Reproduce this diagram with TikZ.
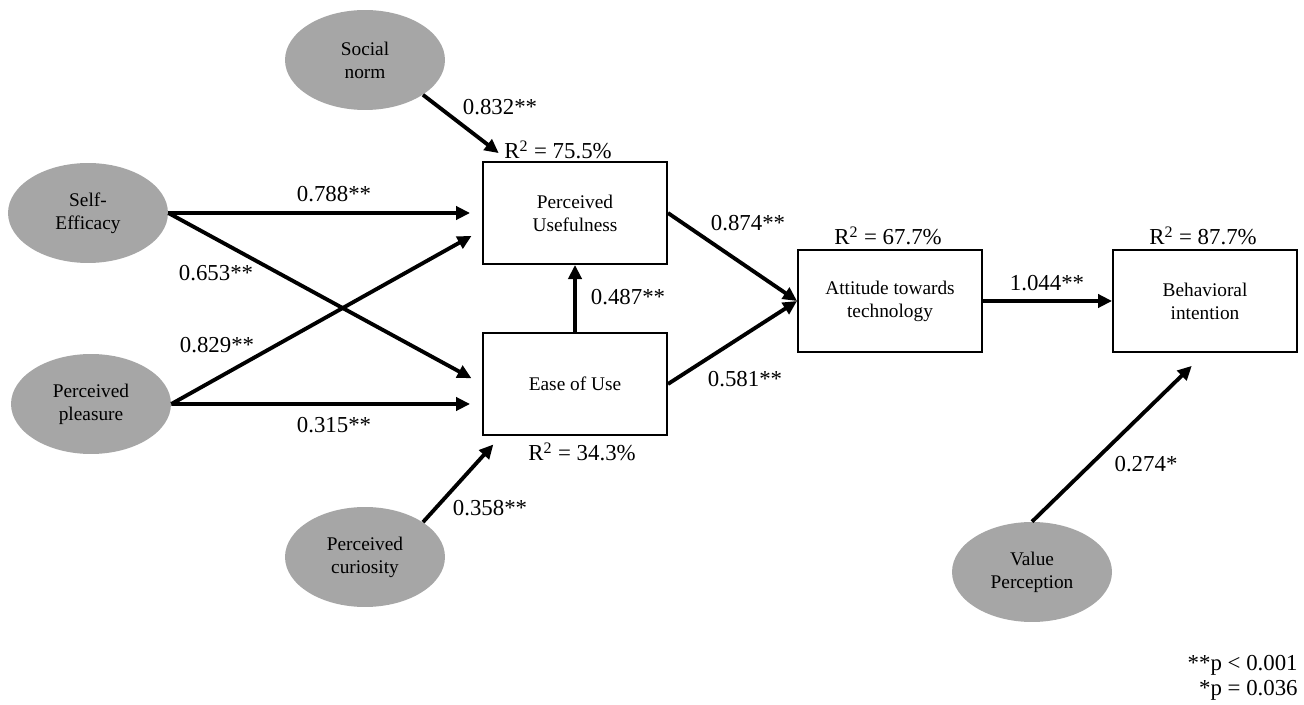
\documentclass[tikz,border=0pt]{standalone}
\usepackage{fontspec}
\setmainfont{Liberation Serif}
\usetikzlibrary{arrows.meta,shapes.geometric}

\begin{document}
\begin{tikzpicture}[x=0.02cm, y=-0.02cm,
  latent/.style={ellipse, fill=black!35, minimum width=3.2cm, minimum height=2cm, inner sep=0pt, align=center, font=\fontsize{11}{13}\selectfont},
  construct/.style={draw=black, line width=1.1pt, minimum width=3.68cm, minimum height=2.04cm, align=center, font=\fontsize{11}{13}\selectfont},
  coef/.style={font=\fontsize{13}{15}\selectfont, inner sep=0pt},
  arrow/.style={-{Triangle[length=8pt, width=7.5pt]}, line width=2.2pt}
]
\useasboundingbox (0,0) rectangle (1304,705);

% latent variables
\node[latent] (sn) at (365,60) {Social\\norm};
\node[latent] (se) at (88,213) {Self-\\Efficacy};
\node[latent] (pp) at (91,404) {Perceived\\pleasure};
\node[latent] (pc) at (365,557) {Perceived\\curiosity};
\node[latent] (vp) at (1032,572) {Value\\Perception};

% constructs
\node[construct] (pu) at (575,213) {Perceived\\Usefulness};
\node[construct] (eou) at (575,384) {Ease of Use};
\node[construct] (att) at (890,301) {Attitude towards\\technology};
\node[construct] (bi) at (1205,301) {Behavioral\\intention};

% R squared
\node[coef] (r2pu) at (558,150) {R\textsuperscript{2} = 75.5\%};
\node[coef] (r2eou) at (582,452) {R\textsuperscript{2} = 34.3\%};
\node[coef] (r2att) at (888,236) {R\textsuperscript{2} = 67.7\%};
\node[coef] (r2bi) at (1203,236) {R\textsuperscript{2} = 87.7\%};

% paths
\draw[arrow, shorten >=0.26cm] (sn.-31) -- ([xshift=0.54cm]pu.north west);
\draw[arrow, shorten >=0.24cm] (se.east) -- (pu.west);
\draw[arrow, shorten >=0.24cm] (se.east) -- (eou.west);
\draw[arrow, shorten >=0.24cm] (pp.east) -- ([yshift=-0.34cm]pu.west);
\draw[arrow, shorten >=0.24cm] (pp.east) -- ([yshift=-0.4cm]eou.west);
\draw[arrow, shorten >=0.23cm] (pc.31) -- ([xshift=0.38cm]eou.south west);
\draw[arrow] (eou.north) -- (pu.south);
\draw[arrow] (pu.east) -- (att.west);
\draw[arrow] (eou.east) -- (att.west);
\draw[arrow, line width=2.6pt] (att.east) -- (bi.west);
\draw[arrow, shorten >=0.37cm] (vp.north) -- (bi.south);

% coefficients
\node[coef] (c832) at (500,107) {0.832**};
\node[coef] (c788) at (334,194) {0.788**};
\node[coef] (c653) at (216,273) {0.653**};
\node[coef] (c829) at (217,345) {0.829**};
\node[coef] (c315) at (334,425) {0.315**};
\node[coef] (c358) at (490,508) {0.358**};
\node[coef] (c487) at (628,297) {0.487**};
\node[coef] (c874) at (748,223) {0.874**};
\node[coef] (c581) at (745,379) {0.581**};
\node[coef] (c044) at (1047,283) {1.044**};
\node[coef] (c274) at (1146,464) {0.274*};

% significance
\node[coef, anchor=east] (sig1) at (1298,665) {**p < 0.001};
\node[coef, anchor=east] (sig2) at (1298,690) {*p = 0.036};
\end{tikzpicture}
\end{document}
